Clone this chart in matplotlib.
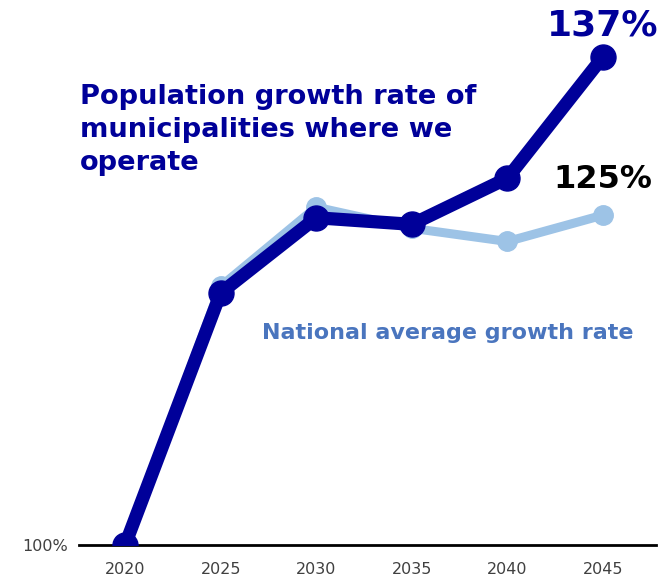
import matplotlib
matplotlib.use("Agg")
import matplotlib.pyplot as plt

years = [2020, 2025, 2030, 2035, 2040, 2045]
operating_rate = [100.0, 119.1, 124.8, 124.3, 127.8, 137.0]
national_rate = [100.0, 119.6, 125.6, 124.0, 123.0, 125.0]
year_labels = ["2020", "2025", "2030", "2035", "2040", "2045"]

DARK = "#000099"
LIGHT = "#9DC3E6"
MID = "#4A75BE"

fig = plt.figure(figsize=(6.66, 5.78), dpi=100)
ax = fig.add_axes([79 / 666, 33 / 578, (656 - 79) / 666, 545 / 578])
ax.set_xlim(2017.59, 2047.77)
ax.set_ylim(100, 141.3)

ax.plot(years, national_rate, color=LIGHT, lw=6.5, marker="o", ms=14,
        solid_capstyle="round", zorder=2)
ax.plot(years, operating_rate, color=DARK, lw=9.5, marker="o", ms=18,
        solid_capstyle="round", zorder=3)

for side in ["top", "right", "left"]:
    ax.spines[side].set_visible(False)
ax.spines["bottom"].set_linewidth(2)
ax.spines["bottom"].set_color("black")
ax.spines["bottom"].set_zorder(1)

ax.set_xticks(years)
ax.set_xticklabels(year_labels, fontsize=11.5, color="#404040")
ax.tick_params(axis="x", length=0, pad=12)
ax.set_yticks([100])
ax.set_yticklabels(["100%"], fontsize=11.5, color="#404040")
ax.tick_params(axis="y", length=0, pad=8)

ax.text(2045, operating_rate[-1] + 1.6, f"{operating_rate[-1]:.0f}%", color=DARK,
        fontsize=26, fontweight="bold", ha="center", va="baseline")
ax.text(2045, national_rate[-1] + 2.05, f"{national_rate[-1]:.0f}%", color="black",
        fontsize=23, fontweight="bold", ha="center", va="baseline")

fig.text(80 / 666, 1 - 84 / 578,
         "Population growth rate of\nmunicipalities where we\noperate",
         color=DARK, fontsize=19.6, fontweight="bold", ha="left", va="top",
         linespacing=1.36)
fig.text(262 / 666, 1 - 333 / 578, "National average growth rate", color=MID,
         fontsize=16, fontweight="bold", ha="left", va="center")

fig.savefig("out.png", dpi=100)
